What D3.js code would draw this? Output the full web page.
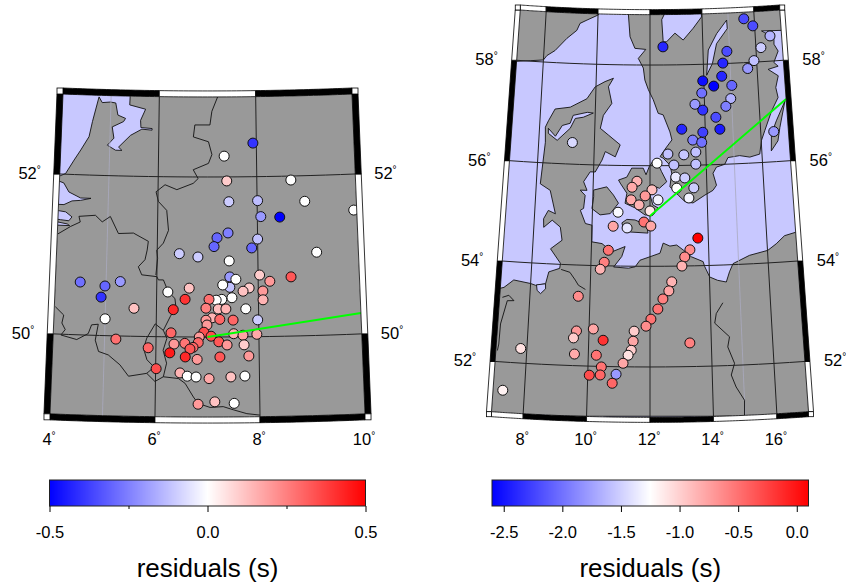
<!DOCTYPE html>
<html>
<head>
<meta charset="utf-8">
<style>
  html, body { margin: 0; padding: 0; background: #fff; }
  text { font-family: "Liberation Sans", Arial, sans-serif; fill: #000; }
</style>
<script src="https://cdn.jsdelivr.net/npm/d3@7"></script>
</head>
<body>
<div id="chart"></div>
<script>
// Left map stations: lon, lat, residual (s)
var leftLon = [7.93,7.34,7.39,8.69,7.43,8.01,8.96,8.07,8.45,9.94,7.41,7.19,7.13,8.00,7.88,9.17,7.43,6.44,6.81,4.49,4.98,4.91,5.28,5.56,5.00,6.22,6.64,6.56,6.33,7.44,7.56,8.03,8.23,8.65,7.44,7.30,7.82,7.70,8.09,8.09,7.48,7.28,7.17,7.03,6.97,7.21,7.36,7.75,7.09,6.97,7.24,7.50,7.98,6.99,6.29,5.22,6.93,6.84,7.07,7.51,7.69,7.96,5.85,6.35,6.56,6.82,6.72,6.66,7.22,7.38,7.71,6.27,6.57,6.80,7.24,7.80,6.01,6.47,6.61,6.78,7.03,7.45,7.72,6.82,7.14,7.51];
var leftLat = [52.42,52.26,51.95,51.95,51.69,51.70,51.68,51.50,51.49,51.55,51.30,51.24,51.13,51.22,51.11,51.04,50.95,51.04,51.00,50.66,50.62,50.48,50.68,50.35,50.21,50.56,50.61,50.47,50.34,50.75,50.72,50.77,50.69,50.74,50.62,50.65,50.61,50.57,50.57,50.46,50.49,50.47,50.46,50.47,50.36,50.35,50.35,50.35,50.24,50.21,50.22,50.21,50.21,50.15,50.05,49.96,50.06,50.00,50.01,50.04,50.02,50.03,49.86,49.91,49.92,49.93,49.87,49.85,49.94,49.90,49.90,49.80,49.75,49.72,49.75,49.76,49.60,49.55,49.51,49.50,49.48,49.50,49.51,49.16,49.19,49.17];
var leftRes = [-0.4,0,0.1,0,-0.1,-0.13,0,-0.2,-0.5,0,-0.25,-0.3,-0.3,-0.12,-0.3,0,0,-0.1,-0.1,-0.28,-0.3,-0.4,-0.2,0.12,0,0,0.12,0.4,0.42,-0.2,0,0.1,0.2,0.33,-0.12,0,0.1,0.12,0.2,0.15,0,0,0,0.28,0.25,0.13,0.15,0,0.15,0.2,0.3,0.3,-0.1,0.2,0.3,0.28,0.35,0.2,0.35,0.15,0.18,0.17,0.3,0.2,0.27,0.3,0.3,0.33,0.33,0.2,0.1,0.45,0.42,0.2,0.33,0.2,0.35,0.15,0,0,0.17,0.12,0,0.2,0.12,0];

// Right map stations
var rightLon = [15.60,15.93,16.56,16.19,15.90,15.65,12.49,14.90,14.73,14.67,13.96,14.36,15.03,13.91,14.97,13.65,14.78,13.93,14.40,13.15,13.91,14.53,13.54,13.86,16.47,9.21,12.64,13.21,13.64,12.25,12.85,13.63,12.91,13.23,12.94,13.54,13.36,12.28,11.54,12.07,11.37,11.83,11.34,11.62,12.00,10.89,11.79,12.03,10.73,11.21,10.58,10.45,10.32,13.64,13.36,13.18,13.08,12.73,12.63,12.43,12.26,12.03,11.87,9.61,11.48,10.14,9.59,9.50,10.47,11.45,11.39,11.29,9.55,10.26,11.13,10.43,10.05,10.40,10.91,10.79,7.80,7.31,13.30];
var rightLat = [58.87,58.72,58.50,58.28,58.03,57.88,58.36,58.24,58.01,57.75,57.67,57.56,57.56,57.43,57.30,57.21,57.15,57.09,56.94,56.72,56.65,56.70,56.50,56.45,56.60,56.43,56.23,56.21,56.26,56.05,56.01,56.02,55.77,55.75,55.55,55.55,55.35,55.32,55.69,55.52,55.57,55.40,55.32,55.22,55.10,55.07,54.88,54.80,54.79,54.76,54.31,54.07,53.93,54.55,54.32,54.18,54.00,53.69,53.51,53.35,53.15,52.95,52.81,53.38,52.71,52.74,52.69,52.55,52.52,52.51,52.33,52.23,52.23,52.22,52.07,51.99,51.82,51.83,51.85,51.67,52.29,51.44,52.47];
var rightRes = [-2.2,-2.2,-1.65,-1.52,-1.58,-1.79,-2.4,-2.2,-2.4,-2.4,-2.53,-2.6,-2.06,-2.0,-1.65,-1.79,-1.93,-2.33,-2.2,-2.4,-2.26,-2.47,-1.93,-2.0,-1.79,-1.45,-1.58,-1.55,-1.58,-1.25,-1.58,-1.58,-1.36,-1.52,-1.25,-1.52,-1.32,-1.32,-0.85,-0.91,-0.8,-0.71,-0.8,-0.85,-1.12,-1.28,-0.51,-0.78,-0.78,-1.38,-0.51,-0.58,-0.85,0.1,-0.64,-0.64,-0.85,-0.85,-0.78,-0.58,-0.51,-0.51,-0.64,-0.64,-0.98,-0.78,-0.71,-0.98,-0.17,-0.78,-0.98,-1.09,-0.8,-0.51,-0.78,-0.51,-0.31,-0.44,-1.79,-0.44,-1.09,-1.18,-0.58];

// Ray lines from the reference point to the map edge
var leftRay = [[7, 50], [10, 50.26]];
var rightRay = [[12, 55], [17, 57.23]];

// Colour bar ticks
var leftBarDomain = [-0.5, 0.5];
var leftBarTicks = [-0.5, 0, 0.5];
var leftBarMinor = [-0.25, 0.25];
var rightBarDomain = [-2.6, 0.1];
var rightBarTicks = [-2.5, -2, -1.5, -1, -0.5, 0];

// Graticule and frame annotation
var leftLonTicks = [4, 6, 8, 10];
var leftLatTicks = [49, 50, 52, 53];
var rightLonTicks = [7, 8, 10, 12, 14, 16, 17];
var rightLatTicks = [51, 52, 54, 56, 58, 59];

// Left map basemap, all lon/lat
var seaNorth = [[5.40,53.1],[5.39,52.89],[5.72,52.84],[5.62,52.70],[5.63,52.61],[5.86,52.60],[5.86,52.58],[5.65,52.59],[5.42,52.51],[5.18,52.36],[5.25,52.32],[5.12,52.32],[4.95,52.38],[5.08,52.47],[5.04,52.61],[5.27,52.68],[5.31,52.72],[5.15,52.76],[5.10,52.91],[4.99,52.92],[4.82,52.91],[4.75,52.98],[4.63,52.67],[4.57,52.48],[4.41,52.31],[4.28,52.18],[4.12,52.01],[4.02,51.98],[3.9,51.98],[3.9,53.1]];
var seaMaas = [[3.9,51.93],[4.09,51.89],[4.20,51.78],[4.44,51.71],[4.65,51.71],[4.44,51.68],[4.27,51.67],[4.11,51.62],[3.9,51.62]];
var seaScheldtA = [[3.9,51.55],[4.15,51.53],[4.28,51.47],[4.22,51.42],[4.05,51.43],[3.9,51.44]];
var seaScheldtB = [[3.9,51.41],[4.19,51.38],[4.24,51.36],[3.9,51.36]];
var borderNlDe = [[7.21,53.00],[7.09,52.82],[7.05,52.65],[6.74,52.65],[6.71,52.50],[7.02,52.44],[7.09,52.28],[7.02,52.17],[6.71,52.09],[6.81,51.98],[6.71,51.92],[6.38,51.84],[6.14,51.90],[5.96,51.81],[6.01,51.69],[6.18,51.58],[6.22,51.33],[6.12,51.17],[5.99,51.08],[6.01,50.98],[5.98,50.77]];
var borderBeNl = [[4.01,51.25],[4.26,51.35],[4.45,51.41],[4.42,51.48],[4.75,51.50],[4.89,51.42],[5.05,51.49],[5.22,51.28],[5.52,51.29],[5.82,51.19],[5.80,51.08],[5.76,50.96],[5.63,50.87],[5.70,50.77],[6.00,50.75],[6.03,50.71],[6.13,50.71],[6.23,50.56],[6.36,50.48],[6.38,50.38],[6.27,50.25],[6.14,50.08],[6.21,49.98],[6.14,49.83],[6.21,49.67],[6.15,49.50]];
var borderLux = [[6.14,50.08],[5.98,50.16],[5.82,49.98],[5.76,49.85],[5.83,49.71],[5.97,49.62],[5.83,49.54]];
var borderFr = [[4.02,50.34],[4.19,50.24],[4.16,50.14],[4.23,50.06],[4.15,49.99],[4.46,49.94],[4.68,50.02],[4.74,50.13],[4.87,50.14],[4.82,49.94],[4.89,49.80],[5.08,49.76],[5.31,49.64],[5.48,49.50],[5.83,49.54],[5.99,49.44],[6.15,49.50],[6.44,49.48],[6.57,49.42],[6.73,49.25],[6.82,49.17],[7.05,49.12],[7.30,49.13],[7.49,49.09],[7.75,49.04],[8.00,49.02]];

// Right map basemap
var landNorway = [[6.8,59.1],[10.01,59.1],[10.01,58.98],[9.58,58.87],[9.32,58.80],[9.21,58.66],[8.84,58.49],[8.42,58.24],[8.12,58.13],[8.00,58.04],[7.51,58.01],[7.01,57.98],[6.8,57.98]];
var landSweden = [[11.17,59.1],[11.17,58.99],[11.24,58.56],[11.43,58.33],[11.84,58.31],[11.56,58.13],[11.75,57.94],[11.81,57.70],[11.94,57.51],[12.12,57.31],[12.30,57.04],[12.48,57.01],[12.72,56.67],[12.79,56.51],[12.57,56.35],[12.36,56.18],[12.47,56.15],[12.71,56.01],[12.77,55.85],[12.70,55.58],[12.99,55.41],[13.22,55.28],[13.50,55.25],[13.92,55.40],[14.21,55.49],[14.34,55.59],[14.23,55.83],[14.36,55.95],[14.66,56.00],[14.78,56.13],[15.20,56.16],[15.56,56.12],[15.92,56.17],[16.01,56.44],[16.15,56.63],[16.44,57.01],[16.71,57.27],[16.65,57.47],[16.77,57.70],[16.41,57.84],[16.79,57.89],[16.64,57.97],[16.83,58.19],[16.69,58.33],[16.71,58.49],[16.37,58.57],[16.25,58.61],[17.2,58.59],[17.2,59.1]];
var landMain = [[10.64,57.73],[10.33,57.66],[9.97,57.55],[9.68,57.31],[9.08,57.13],[8.53,57.08],[8.31,56.84],[8.21,56.71],[8.24,56.41],[8.14,55.58],[8.50,55.46],[8.72,55.00],[8.47,55.06],[8.32,54.89],[8.34,54.72],[8.62,54.87],[8.91,54.74],[8.99,54.48],[8.61,54.30],[8.97,54.02],[8.95,53.92],[8.59,53.84],[8.50,53.60],[8.17,53.56],[8.00,53.59],[7.43,53.64],[7.12,53.48],[6.8,53.42],[6.8,50.9],[17.2,50.9],[17.2,54.6],[16.61,54.52],[16.31,54.37],[16.01,54.25],[15.38,54.17],[14.81,54.02],[14.68,53.86],[14.56,53.66],[14.27,53.70],[14.01,53.77],[13.85,53.98],[13.80,54.08],[13.41,54.18],[13.13,54.32],[12.91,54.42],[12.68,54.40],[12.45,54.46],[12.34,54.26],[12.00,54.19],[11.66,54.12],[11.50,53.99],[11.27,53.96],[10.77,53.98],[11.04,54.19],[11.15,54.39],[10.70,54.28],[10.36,54.44],[10.01,54.47],[10.00,54.80],[9.77,54.83],[9.58,55.09],[9.69,55.13],[9.73,55.39],[9.55,55.49],[9.79,55.49],[9.66,55.66],[9.88,55.86],[10.06,55.86],[10.29,56.10],[10.40,56.27],[10.76,56.17],[10.93,56.41],[10.50,56.60],[10.20,56.73],[10.30,56.99],[10.60,57.23],[10.46,57.56]];
var landFunen = [[10.02,55.50],[10.48,55.57],[10.72,55.41],[10.90,55.25],[10.62,55.04],[10.27,55.01],[9.98,55.13],[10.03,55.37]];
var landLolland = [[11.03,54.86],[11.20,54.93],[11.48,54.92],[11.89,54.82],[11.93,54.66],[11.32,54.68],[11.09,54.72]];
var landZealand = [[10.89,55.71],[11.18,55.77],[11.35,55.95],[11.76,55.95],[11.86,55.82],[11.98,55.99],[12.12,56.10],[12.29,56.03],[12.41,55.88],[12.59,55.68],[12.33,55.55],[12.06,55.62],[12.00,55.42],[12.10,55.22],[12.28,55.16],[12.10,55.02],[11.83,55.02],[11.48,55.16],[11.13,55.25],[11.19,55.45],[10.95,55.65]];
var landOland = [[16.95,57.19],[16.59,56.81],[16.38,56.55],[16.34,56.22],[16.60,56.41],[16.70,56.67]];
var seaLimfjord = [[8.32,56.69],[8.59,56.54],[8.82,56.76],[9.10,56.81],[9.20,56.97],[9.71,57.04],[9.93,57.03],[9.57,56.94],[9.28,56.91],[9.11,56.71],[8.66,56.46],[8.33,56.59]];
var seaVanern = [[12.45,58.90],[12.64,59.1],[13.98,59.1],[13.98,58.94],[13.65,58.72],[13.26,58.49],[12.95,58.63],[12.63,58.46],[12.50,58.46]];
var seaVattern = [[14.94,58.86],[14.54,58.60],[14.20,58.28],[14.11,57.78],[14.34,58.01],[14.52,58.40],[14.95,58.69]];
var seaJade = [[8.20,53.57],[8.23,53.46],[8.35,53.40],[8.51,53.50],[8.50,53.60]];
var riverElbe = [[9.00,53.90],[9.30,53.85],[9.49,53.70],[9.60,53.60],[9.84,53.52]];
var borderEms = [[7.09,53.28],[7.30,53.33],[7.48,53.23],[7.26,53.22],[7.09,52.75],[7.08,52.35],[7.05,52.22]];
var borderOder = [[14.42,53.25],[14.19,53.04],[14.13,52.85],[14.60,52.57],[14.53,52.37],[14.73,52.04],[14.61,51.81],[14.75,51.57],[15.00,51.30],[14.98,51.00]];

var svgWidth = 846;
var svgHeight = 587;
var landColor = "#999999";
var seaColor = "#c8c8ff";

var svg = d3.select("#chart")
  .append("svg")
  .attr("width", svgWidth)
  .attr("height", svgHeight)
  .style("display", "block");

var lineGen = d3.line();

function project(proj, pts) {
  return lineGen(pts.map(function(p) { return proj(p); }));
}

function lonRun(a, b, lat) {
  return d3.range(0, 21).map(function(i) { return [a + (b - a) * i / 20, lat]; });
}

// one full map: basemap, graticule, stations, ray and the fancy frame
function drawMap(cfg) {
  var proj = cfg.proj;
  var lon0 = cfg.lonTicks[0], lon1 = cfg.lonTicks[cfg.lonTicks.length - 1];
  var lat0 = cfg.latTicks[0], lat1 = cfg.latTicks[cfg.latTicks.length - 1];
  var w = cfg.frame;

  var ring = lonRun(lon0, lon1, lat1).concat(lonRun(lon1, lon0, lat0));

  svg.append("clipPath").attr("id", cfg.id)
    .append("path").attr("d", project(proj, ring) + "Z");

  var g = svg.append("g");
  var inner = g.append("g").attr("clip-path", "url(#" + cfg.id + ")");

  inner.append("path")
    .attr("d", project(proj, ring) + "Z")
    .attr("fill", cfg.base);

  cfg.polys.forEach(function(p) {
    inner.append("path")
      .attr("d", project(proj, p.pts) + "Z")
      .attr("fill", p.fill)
      .attr("stroke", "#111")
      .attr("stroke-width", 0.9)
      .attr("stroke-linejoin", "round");
  });

  cfg.faint.forEach(function(lon) {
    inner.append("path")
      .attr("d", project(proj, [[lon, lat0], [lon, lat1]]))
      .attr("fill", "none")
      .attr("stroke", "#aaaabf")
      .attr("stroke-width", 0.8);
  });

  cfg.lines.forEach(function(l) {
    inner.append("path")
      .attr("d", project(proj, l))
      .attr("fill", "none")
      .attr("stroke", "#111")
      .attr("stroke-width", 0.9)
      .attr("stroke-linejoin", "round");
  });

  // graticule
  cfg.lonTicks.slice(1, -1).forEach(function(lon) {
    inner.append("path")
      .attr("d", project(proj, [[lon, lat0], [lon, lat1]]))
      .attr("fill", "none").attr("stroke", "#222").attr("stroke-width", 1);
  });
  cfg.latTicks.slice(1, -1).forEach(function(lat) {
    inner.append("path")
      .attr("d", project(proj, lonRun(lon0, lon1, lat)))
      .attr("fill", "none").attr("stroke", "#222").attr("stroke-width", 1);
  });

  // stations
  inner.selectAll("circle")
    .data(cfg.lon.map(function(d, i) { return i; }))
    .enter()
    .append("circle")
    .attr("cx", function(i) { return proj([cfg.lon[i], cfg.lat[i]])[0]; })
    .attr("cy", function(i) { return proj([cfg.lon[i], cfg.lat[i]])[1]; })
    .attr("r", 5)
    .attr("fill", function(i) { return cfg.color(cfg.res[i]); })
    .attr("stroke", "#111")
    .attr("stroke-width", 1);

  inner.append("path")
    .attr("d", project(proj, cfg.ray))
    .attr("fill", "none")
    .attr("stroke", "#00ff00")
    .attr("stroke-width", 2);

  // frame bands along the parallels
  function band(pts, dx, dy, black) {
    var outer = pts.map(function(p) { var q = proj(p); return [q[0] + dx, q[1] + dy]; }).reverse();
    var polygon = pts.map(function(p) { return proj(p); }).concat(outer);
    g.append("path")
      .attr("d", lineGen(polygon) + "Z")
      .attr("fill", black ? "#000" : "#fff")
      .attr("stroke", "#000")
      .attr("stroke-width", 0.8);
  }

  cfg.lonTicks.slice(0, -1).forEach(function(a, i) {
    var b = cfg.lonTicks[i + 1];
    var black = (i % 2 === 0) === cfg.startBlack;
    band(lonRun(a, b, lat1), 0, -w, black);
    band(lonRun(a, b, lat0), 0, w, black);
  });
  cfg.latTicks.slice(0, -1).forEach(function(a, i) {
    var b = cfg.latTicks[i + 1];
    var black = (i % 2 === 0) === cfg.startBlack;
    band([[lon0, a], [lon0, b]], -w, 0, black);
    band([[lon1, a], [lon1, b]], w, 0, black);
  });

  // white corner squares
  [[lon0, lat1, -w, -w], [lon1, lat1, 0, -w], [lon0, lat0, -w, 0], [lon1, lat0, 0, 0]].forEach(function(c) {
    var q = proj([c[0], c[1]]);
    g.append("rect")
      .attr("x", q[0] + c[2]).attr("y", q[1] + c[3])
      .attr("width", w).attr("height", w)
      .attr("fill", "#fff").attr("stroke", "#000").attr("stroke-width", 0.8);
  });

  // degree labels
  function degLabel(x, y, anchor, value) {
    var t = g.append("text")
      .attr("x", x).attr("y", y)
      .attr("text-anchor", anchor)
      .attr("font-size", 16.5)
      .text(value);
    t.append("tspan").attr("font-size", 10).attr("dy", -6).text("\u00b0");
  }
  cfg.latLabels.forEach(function(lat) {
    var a = proj([lon0, lat]), b = proj([lon1, lat]);
    degLabel(a[0] - 19, a[1] + 5, "end", lat);
    degLabel(b[0] + 19, b[1] + 5, "start", lat);
  });
  cfg.lonLabels.forEach(function(lon) {
    var q = proj([lon, lat0]);
    degLabel(q[0] - 1, 445, "middle", lon);
  });
}

// colour bar with axis underneath
function drawBar(cfg) {
  var x = d3.scaleLinear().domain(cfg.domain).range(cfg.range);
  var g = svg.append("g");
  var barH = 26, barY = 480;

  // whole pixel columns so the ramp stays saturated at the ends
  g.selectAll("rect")
    .data(d3.range(Math.floor(cfg.range[0]), Math.ceil(cfg.range[1])))
    .enter()
    .append("rect")
    .attr("x", function(d) { return d; })
    .attr("y", barY)
    .attr("width", 1)
    .attr("height", barH)
    .attr("shape-rendering", "crispEdges")
    .attr("fill", function(d) { return cfg.color(x.invert(d + 0.5)); });

  g.append("rect")
    .attr("x", cfg.range[0]).attr("y", barY)
    .attr("width", cfg.range[1] - cfg.range[0]).attr("height", barH)
    .attr("fill", "none").attr("stroke", "#222").attr("stroke-width", 1);

  var axis = d3.axisBottom(x)
    .tickValues(cfg.ticks)
    .tickSize(6)
    .tickPadding(0)
    .tickFormat(function(d) { return d.toFixed(1); });
  var axisG = g.append("g").attr("transform", "translate(0," + (barY + barH) + ")").call(axis);
  axisG.select(".domain").remove();
  axisG.selectAll("text")
    .attr("y", 32)
    .attr("dy", 0)
    .attr("font-size", 16.5)
    .attr("font-family", "Liberation Sans, Arial, sans-serif");
  axisG.selectAll("line").attr("stroke", "#000");

  if (cfg.minor) {
    var minorG = g.append("g").attr("transform", "translate(0," + (barY + barH) + ")")
      .call(d3.axisBottom(x).tickValues(cfg.minor).tickSize(3).tickFormat(""));
    minorG.select(".domain").remove();
    minorG.selectAll("line").attr("stroke", "#000");
  }

  g.append("text")
    .attr("x", (cfg.range[0] + cfg.range[1]) / 2)
    .attr("y", 577)
    .attr("text-anchor", "middle")
    .attr("font-size", 26)
    .text("residuals (s)");
}

function bwr(domain) {
  return d3.scaleLinear()
    .domain([domain[0], (domain[0] + domain[1]) / 2, domain[1]])
    .range(["#0000ff", "#ffffff", "#ff0000"])
    .clamp(true);
}

var leftColor = bwr(leftBarDomain);
var rightColor = bwr(rightBarDomain);

var leftProj = d3.geoConicConformal()
  .parallels([49, 53]).rotate([-7, 0]).center([0, 51])
  .scale(4587).translate([207.5, 257]);

var rightProj = d3.geoConicConformal()
  .parallels([51, 59]).rotate([-12, 0]).center([0, 55])
  .scale(2889).translate([650, 216]);

drawMap({
  id: "clipLeft", proj: leftProj, frame: 6, startBlack: true,
  lonTicks: leftLonTicks, latTicks: leftLatTicks,
  lonLabels: [4, 6, 8, 10], latLabels: [50, 52],
  base: landColor,
  polys: [seaNorth, seaMaas, seaScheldtA, seaScheldtB].map(function(p) { return { pts: p, fill: seaColor }; }),
  lines: [borderNlDe, borderBeNl, borderLux, borderFr],
  faint: [5],
  lon: leftLon, lat: leftLat, res: leftRes, color: leftColor, ray: leftRay
});

drawMap({
  id: "clipRight", proj: rightProj, frame: 5, startBlack: false,
  lonTicks: rightLonTicks, latTicks: rightLatTicks,
  lonLabels: [8, 10, 12, 14, 16], latLabels: [52, 54, 56, 58],
  base: seaColor,
  polys: [landNorway, landSweden, landMain, landFunen, landLolland, landZealand, landOland].map(function(p) { return { pts: p, fill: landColor }; })
    .concat([seaLimfjord, seaVanern, seaVattern, seaJade].map(function(p) { return { pts: p, fill: seaColor }; })),
  lines: [riverElbe, borderEms, borderOder],
  faint: [15],
  lon: rightLon, lat: rightLat, res: rightRes, color: rightColor, ray: rightRay
});

drawBar({ domain: leftBarDomain, range: [49.5, 365.5], ticks: leftBarTicks, minor: leftBarMinor, color: leftColor });
drawBar({ domain: rightBarDomain, range: [492, 808.5], ticks: rightBarTicks, color: rightColor });
</script>
</body>
</html>
